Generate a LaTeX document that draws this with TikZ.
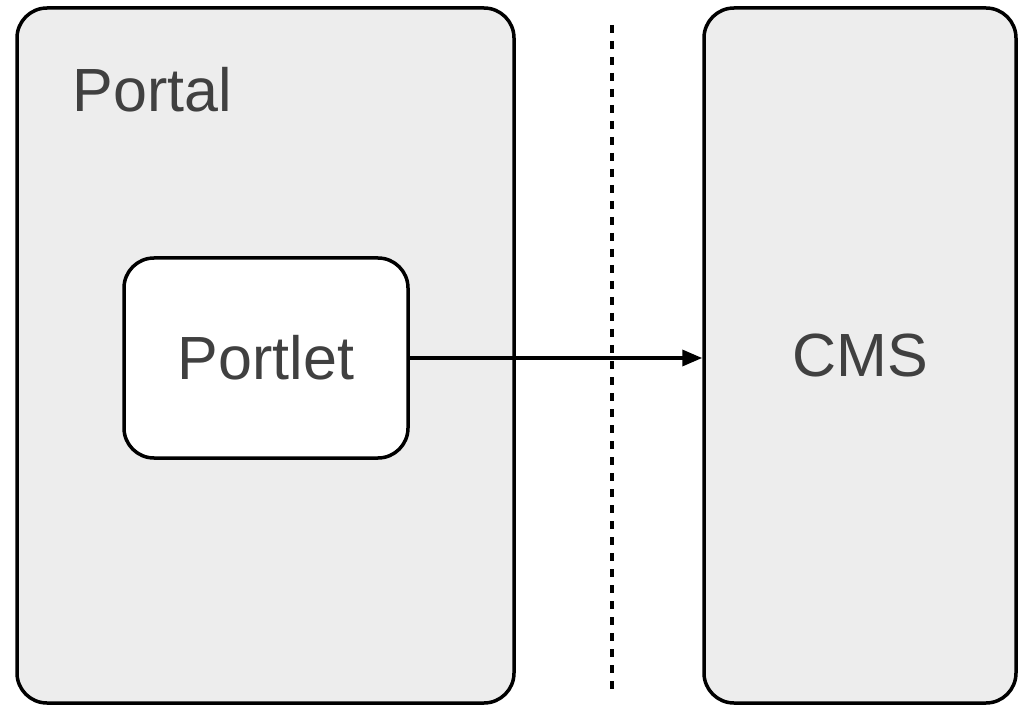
\documentclass[tikz,border=0pt]{standalone}
\usepackage{fontspec}
\setmainfont{Liberation Sans}
\usetikzlibrary{arrows.meta}
\definecolor{boxgray}{HTML}{EDEDED}
\definecolor{textgray}{HTML}{404040}
\newcommand\bigfont{\fontsize{30.5}{36}\selectfont}
\tikzset{
  panel/.style={draw=black, fill=boxgray, line width=1.75pt, rounded corners=15pt, inner sep=0pt},
  inner/.style={draw=black, fill=white, line width=1.75pt, rounded corners=15pt, inner sep=0pt,
                minimum width=142pt, minimum height=100pt, font=\bigfont, text=textgray},
  call/.style={line width=1.75pt, -{Triangle[length=10pt,width=8pt]}},
  border/.style={line width=1.75pt, dash pattern=on 4pt off 4pt}
}
\begin{document}
\begin{tikzpicture}[x=0.5pt,y=-0.5pt]
\useasboundingbox (0,0) rectangle (1024,706);

\node[panel, minimum width=248.5pt, minimum height=347.5pt] (portal) at (265.5,355.5) {};
\node[panel, minimum width=156pt, minimum height=347.5pt, font=\bigfont, text=textgray] (cms) at (860,355.5) {CMS};
\node[anchor=base west, font=\bigfont, text=textgray, inner sep=0pt] (portallabel) at (72,112) {Portal};
\node[inner] (portlet) at (266,358) {Portlet};

% boundary between the two sides
\coordinate (top) at (612,25);
\coordinate (bottom) at (612,692);
\draw[border] (top) -- (bottom);

\draw[call] (portlet.east) -- (portlet.east -| cms.west);

\end{tikzpicture}
\end{document}
